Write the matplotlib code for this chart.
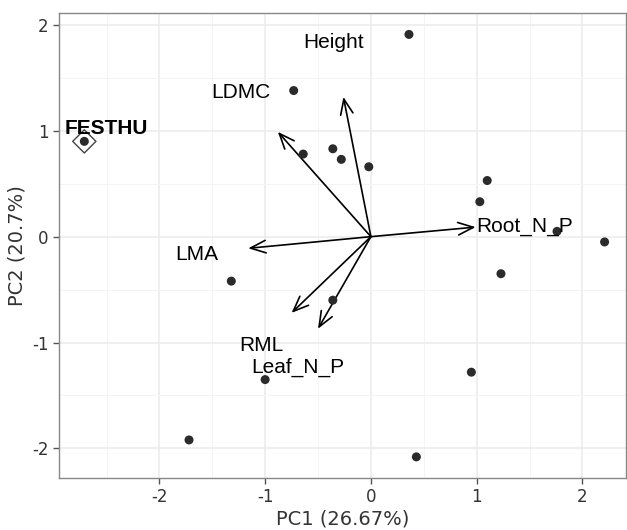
import matplotlib
matplotlib.use("Agg")
import matplotlib.pyplot as plt
import numpy as np

plt.rcParams["axes.unicode_minus"] = False

# Sample scores
pc1 = [0.36, -0.73, -0.64, -0.36, -0.28, -0.02, 1.10, 1.03, 1.76, 2.21, 1.23,
       -1.32, -0.36, -1.00, 0.95, -1.72, 0.43]
pc2 = [1.91, 1.38, 0.78, 0.83, 0.73, 0.66, 0.53, 0.33, 0.05, -0.05, -0.35,
       -0.42, -0.60, -1.35, -1.28, -1.92, -2.08]

# Highlighted species
hl_name = "FESTHU"
hl_pc1 = -2.71
hl_pc2 = 0.90

# Trait loadings
traits = ["Height", "LDMC", "Root_N_P", "LMA", "RML", "Leaf_N_P"]
load1 = [-0.26, -0.88, 0.99, -1.16, -0.75, -0.50]
load2 = [1.32, 0.99, 0.09, -0.11, -0.72, -0.87]
lab1 = [-0.35, -1.23, 1.45, -1.65, -1.04, -0.69]
lab2 = [1.83, 1.36, 0.10, -0.17, -1.03, -1.23]

fig = plt.figure(figsize=(6.27, 5.30), dpi=100)
ax = fig.add_axes([0.094, 0.098, 0.904, 0.877])

ax.set_xlim(-2.95, 2.41)
ax.set_ylim(-2.28, 2.11)

# grid
ax.set_xticks([-2, -1, 0, 1, 2])
ax.set_yticks([-2, -1, 0, 1, 2])
ax.set_xticks([-2.5, -1.5, -0.5, 0.5, 1.5], minor=True)
ax.set_yticks([-1.5, -0.5, 0.5, 1.5], minor=True)
ax.grid(True, which="major", color="#ebebeb", lw=1.1, zorder=0)
ax.grid(True, which="minor", color="#f4f4f4", lw=0.7, zorder=0)
ax.set_axisbelow(True)
ax.tick_params(which="minor", length=0)
ax.tick_params(which="major", length=4, width=1, color="#555555",
               labelsize=12, labelcolor="#333333")
for s in ax.spines.values():
    s.set_color("#888888")
    s.set_linewidth(1.0)

ax.scatter(pc1, pc2, s=42, color="#2b2b2b", zorder=3, edgecolors="none")
ax.scatter([hl_pc1], [hl_pc2], s=140, marker="D", facecolors="none",
           edgecolors="#444444", linewidths=1.0, zorder=3)
ax.scatter([hl_pc1], [hl_pc2], s=42, color="#2b2b2b", zorder=4, edgecolors="none")
ax.text(hl_pc1 - 0.19, hl_pc2 + 0.12, hl_name, fontsize=15, fontweight="bold",
        family="Liberation Sans", color="black", ha="left", va="center")

for t, x, y, lx, ly in zip(traits, load1, load2, lab1, lab2):
    ax.annotate("", xy=(x, y), xytext=(0, 0),
                arrowprops=dict(arrowstyle="->,head_length=1.1,head_width=0.45",
                                color="black", lw=1.2, shrinkA=0, shrinkB=0),
                zorder=2)
    ax.text(lx, ly, t, fontsize=15, family="Liberation Sans", color="black",
            ha="center", va="center", zorder=5)

ax.set_xlabel("PC1 (26.67%)", fontsize=14, color="#333333", labelpad=2)
ax.set_ylabel("PC2 (20.7%)", fontsize=14, color="#333333", labelpad=4)

fig.savefig("out.png", dpi=100)
